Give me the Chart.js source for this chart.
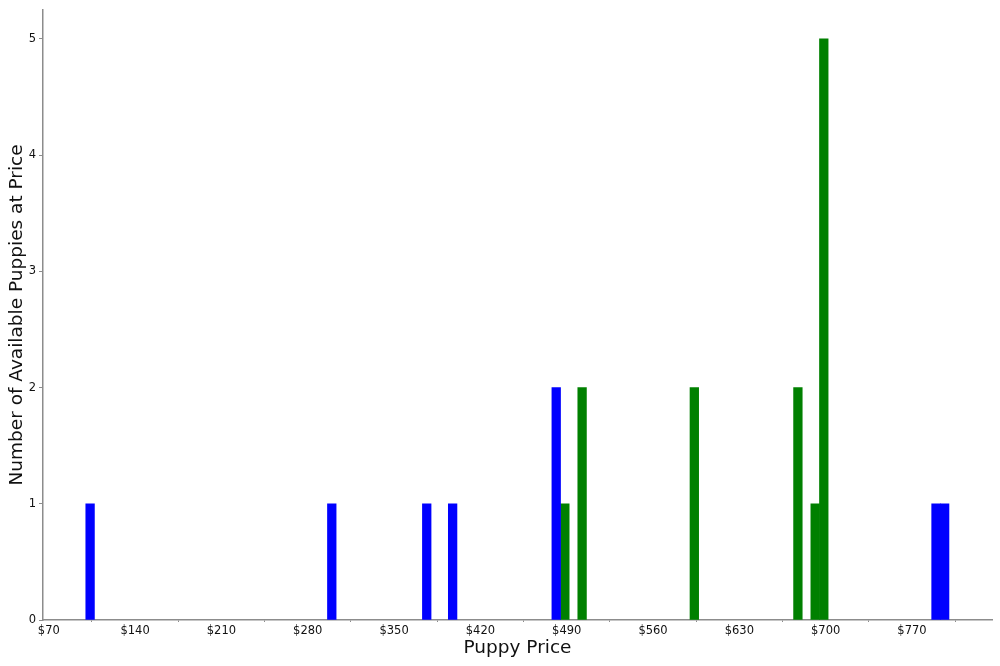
<!DOCTYPE html>
<html>
<head>
<meta charset="utf-8">
<script src="https://cdn.jsdelivr.net/npm/chart.js@4"></script>
<style>
  html, body { margin: 0; padding: 0; background: #ffffff; }
  #wrap { width: 1000px; height: 666px; }
</style>
</head>
<body>
<div id="wrap"><canvas id="c" width="1000" height="666"></canvas></div>
<script>
// ---- data ----
const binWidth = 7;                                   // dollars per histogram bin
const blueBinStarts = [100, 296, 373, 394, 478, 786, 793];
const blueCounts    = [1, 1, 1, 1, 2, 1, 1];
const greenBinStarts = [485, 499, 590, 674, 688, 695];
const greenCounts    = [1, 2, 2, 2, 1, 5];
const xTickValues = [70, 140, 210, 280, 350, 420, 490, 560, 630, 700, 770];
const yTickValues = [0, 1, 2, 3, 4, 5];
const xLabel = 'Puppy Price';
const yLabel = 'Number of Available Puppies at Price';

const toPoints = (starts, counts) => starts.map((s, i) => ({ x: s + binWidth / 2, y: counts[i] }));

const axisColor = '#8c8c8c';
const textColor = '#111111';
const font = 'DejaVu Sans';

new Chart(document.getElementById('c'), {
  type: 'bar',
  data: {
    datasets: [
      { data: toPoints(blueBinStarts, blueCounts), backgroundColor: '#0000ff', borderWidth: 0 },
      { data: toPoints(greenBinStarts, greenCounts), backgroundColor: '#008000', borderWidth: 0 }
    ]
  },
  options: {
    responsive: false,
    animation: false,
    devicePixelRatio: 1,
    grouped: false,
    barPercentage: 1,
    categoryPercentage: 1,
    layout: { padding: { left: 0, right: 8, top: 8, bottom: 0 } },
    plugins: { legend: { display: false }, tooltip: { enabled: false } },
    scales: {
      x: {
        type: 'linear',
        offset: false,
        min: 65.3,
        max: 834.9,
        afterBuildTicks: (s) => { s.ticks = xTickValues.map(v => ({ value: v })); },
        afterFit: (s) => { s.height = 46; },
        ticks: {
          autoSkip: false,
          maxRotation: 0,
          padding: 2,
          color: textColor,
          font: { family: font, size: 11.5 },
          callback: (v) => '$' + v
        },
        grid: { drawOnChartArea: false, drawTicks: true, tickLength: 2, color: axisColor, lineWidth: 1 },
        border: { display: true, color: axisColor, width: 1.5 },
        title: {
          display: true, text: xLabel, color: textColor,
          font: { family: font, size: 18.5 },
          padding: { top: 0, bottom: 7 }
        }
      },
      y: {
        type: 'linear',
        min: 0,
        max: 5.25,
        afterBuildTicks: (s) => { s.ticks = yTickValues.map(v => ({ value: v })); },
        afterFit: (s) => { s.width = 43; },
        ticks: {
          padding: 3,
          color: textColor,
          font: { family: font, size: 11.5 }
        },
        grid: { drawOnChartArea: false, drawTicks: true, tickLength: 4, color: axisColor, lineWidth: 1 },
        border: { display: true, color: axisColor, width: 1.5 },
        title: {
          display: true, text: yLabel, color: textColor,
          font: { family: font, size: 18.5 },
          padding: { top: 6, bottom: 0 }
        }
      }
    }
  }
});
</script>
</body>
</html>
